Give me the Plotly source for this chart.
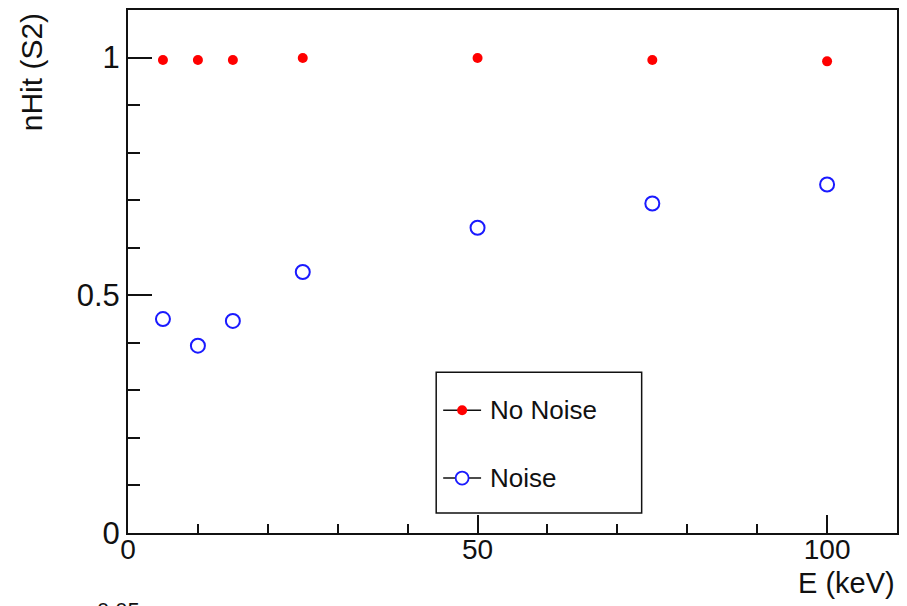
import plotly.graph_objects as go

# Energy points (keV)
energy = [5, 10, 15, 25, 50, 75, 100]
# Fraction of S2 hits found
nhit_no_noise = [0.995, 0.995, 0.995, 0.999, 0.999, 0.995, 0.992]
nhit_noise = [0.450, 0.394, 0.446, 0.549, 0.642, 0.693, 0.733]

series_names = ["No Noise", "Noise"]

FONT = "Liberation Sans, Arial, Helvetica, sans-serif"

fig = go.Figure()

fig.add_trace(go.Scatter(
    x=energy, y=nhit_no_noise, mode="markers", name=series_names[0],
    marker=dict(symbol="circle", size=10, color="#ff0000", line=dict(width=0)),
))
fig.add_trace(go.Scatter(
    x=energy, y=nhit_noise, mode="markers", name=series_names[1],
    marker=dict(symbol="circle-open", size=14, color="#1a1aff", line=dict(width=2)),
))

axis_common = dict(
    showgrid=False, zeroline=False, showline=True, linecolor="#111",
    linewidth=2, mirror=True, ticks="inside", tickcolor="#111", tickwidth=1.5,
)

fig.update_xaxes(
    range=[0, 110], tickvals=[0, 50, 100], ticklen=18, ticklabelstandoff=-10,
    tickfont=dict(family=FONT, size=28, color="#111"),
    minor=dict(dtick=10, tick0=0, ticks="inside", ticklen=9, tickcolor="#111", tickwidth=1.5),
    **axis_common,
)
fig.update_yaxes(
    range=[0, 1.1], tickvals=[0, 0.5, 1], ticktext=["0", "0.5", "1"], ticklen=24,
    tickfont=dict(family=FONT, size=31, color="#111"),
    minor=dict(dtick=0.1, tick0=0, ticks="inside", ticklen=12, tickcolor="#111", tickwidth=1.5),
    **axis_common,
)

# Legend box drawn in pixel-anchored paper coordinates
W, H = 907, 606
L, R, T, B = 128, 8, 9, 73
pw, ph = W - L - R, H - T - B


def px(xp):
    return (xp - L) / pw


def py(yp):
    return (H - B - yp) / ph


shapes = [
    dict(type="rect", xref="paper", yref="paper", x0=px(437), x1=px(643),
         y0=py(513), y1=py(372), line=dict(color="#111", width=1.5), fillcolor="white", layer="above"),
    dict(type="line", xref="paper", yref="paper", x0=px(444), x1=px(482),
         y0=py(410), y1=py(410), line=dict(color="#111", width=1.5), layer="above"),
    dict(type="line", xref="paper", yref="paper", x0=px(444), x1=px(482),
         y0=py(478), y1=py(478), line=dict(color="#111", width=1.5), layer="above"),
    dict(type="circle", xref="paper", yref="paper", xsizemode="pixel", ysizemode="pixel",
         xanchor=px(463), yanchor=py(410), x0=-5, x1=5, y0=-5, y1=5,
         fillcolor="#ff0000", line=dict(width=0), layer="above"),
    dict(type="circle", xref="paper", yref="paper", xsizemode="pixel", ysizemode="pixel",
         xanchor=px(463), yanchor=py(478), x0=-6.5, x1=6.5, y0=-6.5, y1=6.5,
         fillcolor="white", line=dict(color="#1a1aff", width=1.8), layer="above"),
]

annotations = [
    dict(text=series_names[0], xref="paper", yref="paper", x=px(489), y=py(410),
         xanchor="left", yanchor="middle", showarrow=False,
         font=dict(family=FONT, size=26, color="#111")),
    dict(text=series_names[1], xref="paper", yref="paper", x=px(489), y=py(478),
         xanchor="left", yanchor="middle", showarrow=False,
         font=dict(family=FONT, size=26, color="#111")),
    # Axis titles, ROOT-style aligned to the axis ends
    dict(text="E (keV)", xref="paper", yref="paper", x=px(899), y=py(583),
         xanchor="right", yanchor="middle", showarrow=False,
         font=dict(family=FONT, size=29, color="#111")),
    dict(text="nHit (S2)", xref="paper", yref="paper", x=px(32), y=py(10),
         xanchor="center", yanchor="top", textangle=-90, showarrow=False,
         font=dict(family=FONT, size=30, color="#111")),
    dict(text="0.05", xref="paper", yref="paper", x=px(95), y=py(611),
         xanchor="left", yanchor="middle", showarrow=False,
         font=dict(family=FONT, size=22, color="#111")),
]

fig.update_layout(
    width=W, height=H,
    margin=dict(l=L, r=R, t=T, b=B, pad=0),
    paper_bgcolor="white", plot_bgcolor="white",
    showlegend=False,
    shapes=shapes, annotations=annotations,
    font=dict(family=FONT, color="#111"),
)

fig.write_html("out.html")
